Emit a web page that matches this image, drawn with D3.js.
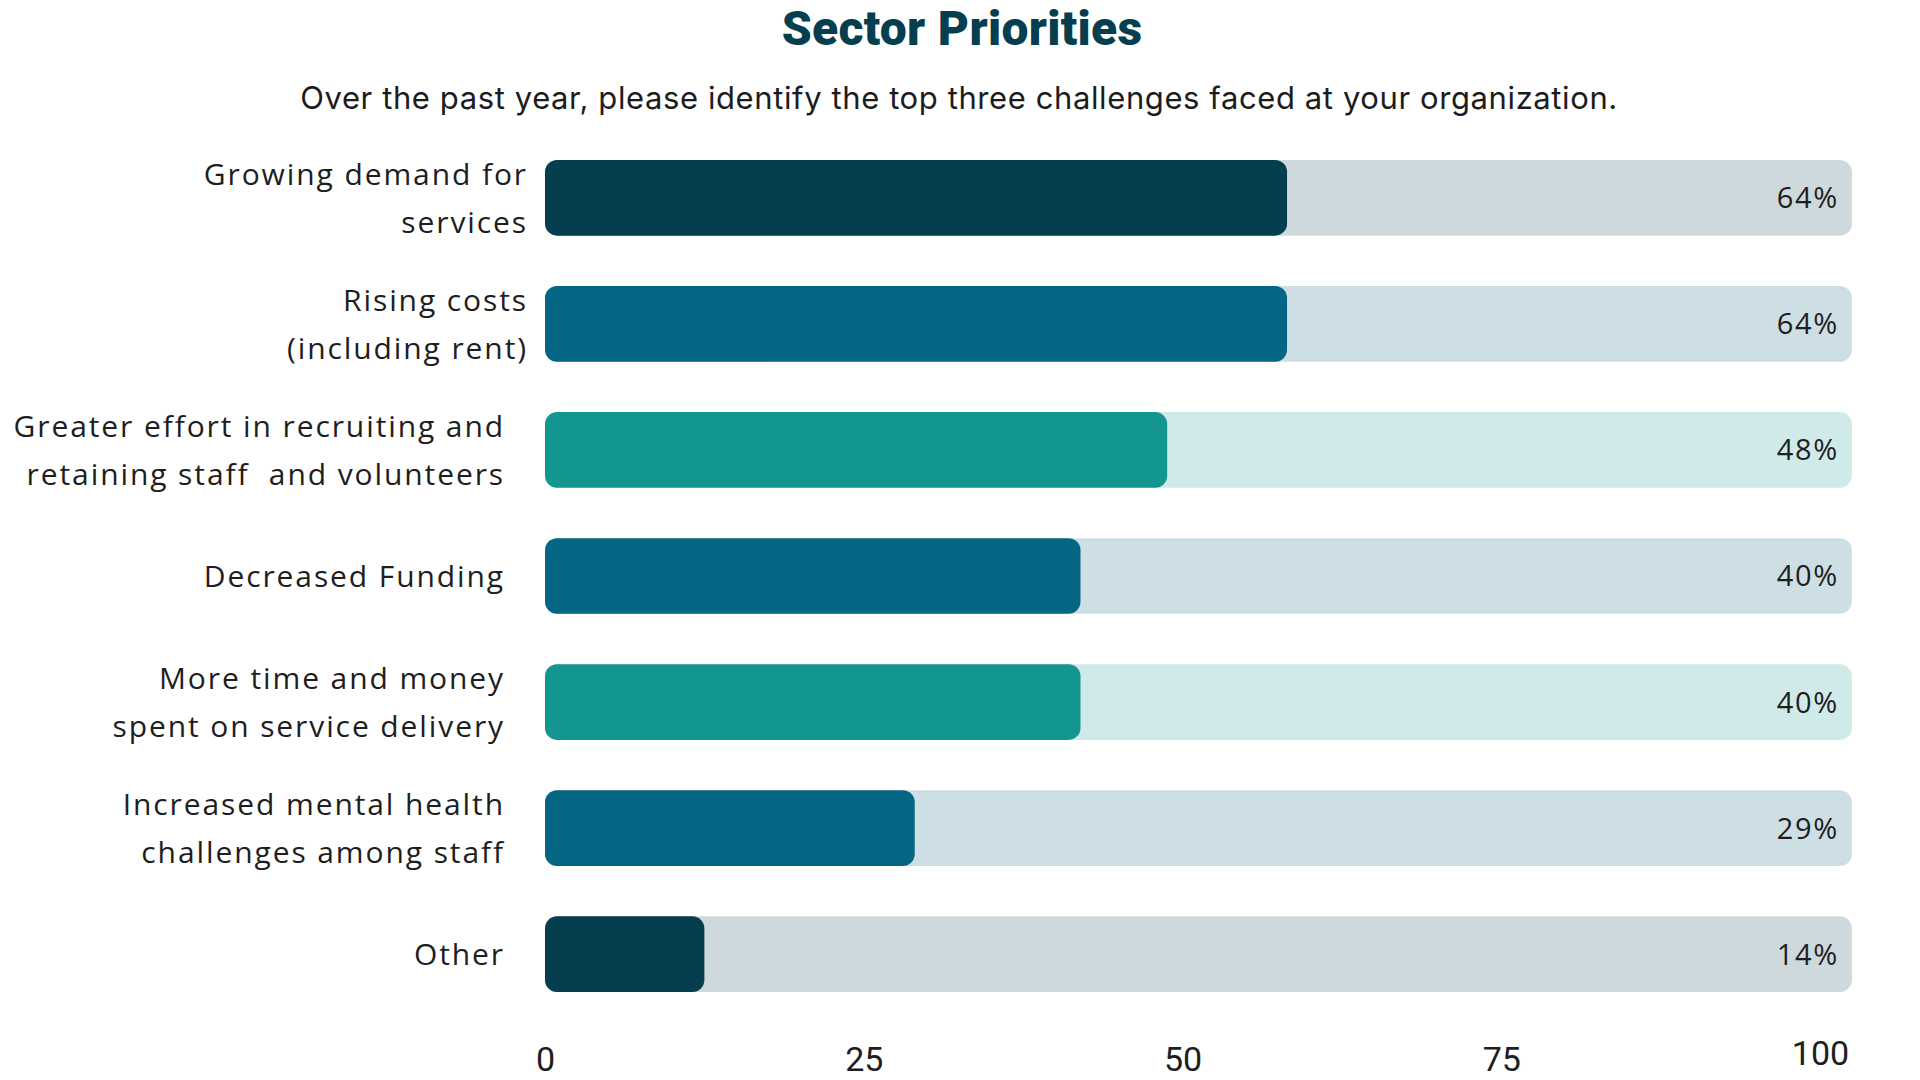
<!DOCTYPE html>
<html>
<head>
<meta charset="utf-8">
<script src="https://cdn.jsdelivr.net/npm/d3@7"></script>
<style>
  html, body { margin: 0; padding: 0; background: #fff; }
  svg { display: block; }
</style>
</head>
<body>
<div id="chart"></div>
<script>
// datos
const categories = [
  ["Growing demand for", "services"],
  ["Rising costs", "(including rent)"],
  ["Greater effort in recruiting and", "retaining staff  and volunteers"],
  ["Decreased Funding"],
  ["More time and money", "spent on service delivery"],
  ["Increased mental health", "challenges among staff"],
  ["Other"]
]
const values = [58.2, 58.2, 48.8, 42, 42, 29, 12.5]
const valueLabels = ["64%", "64%", "48%", "40%", "40%", "29%", "14%"]
const tickValues = [0, 25, 50, 75, 100]
const barColors = ["#043e4f", "#046683", "#149690", "#046683", "#149690", "#046683", "#043e4f"]
const trackColors = ["#cdd9dc", "#cddfe5", "#d0eaea", "#cddfe5", "#d0eaea", "#cddfe5", "#cdd9dc"]

const width = 1920, height = 1080
const labelFont = "'Open Sans', 'Noto Sans', sans-serif"

const svg = d3.select("#chart")
  .append("svg")
  .attr("width", width)
  .attr("height", height)

// escalas
const x = d3.scaleLinear()
  .domain([0, 100])
  .range([545, 1820])

const y = d3.scaleBand()
  .domain(d3.range(categories.length))
  .range([160, 992])
  .paddingInner(0.4)
  .paddingOuter(0)

// titulo
svg.append("text")
  .attr("x", 962)
  .attr("y", 45)
  .attr("text-anchor", "middle")
  .attr("fill", "#053f4f")
  .style("font-family", "Roboto, sans-serif")
  .style("font-weight", 900)
  .style("font-size", "48px")
  .style("letter-spacing", "0.3px")
  .text("Sector Priorities")

svg.append("text")
  .attr("x", 959)
  .attr("y", 109)
  .attr("text-anchor", "middle")
  .attr("fill", "#1c1c1c")
  .style("font-family", "Inter, sans-serif")
  .style("font-size", "31px")
  .style("letter-spacing", "0.6px")
  .text("Over the past year, please identify the top three challenges faced at your organization.")

// pistas de fondo
const rows = svg.append("g")
  .selectAll("g")
  .data(values)
  .join("g")

rows.append("rect")
  .attr("x", x(0))
  .attr("y", (d, i) => y(i))
  .attr("width", x(102.5) - x(0))
  .attr("height", y.bandwidth())
  .attr("rx", 12)
  .attr("fill", (d, i) => trackColors[i])

rows.append("rect")
  .attr("x", x(0))
  .attr("y", (d, i) => y(i))
  .attr("width", d => x(d) - x(0))
  .attr("height", y.bandwidth())
  .attr("rx", 12)
  .attr("fill", (d, i) => barColors[i])

// etiquetas de valor
rows.append("text")
  .attr("x", x(102.5) - 13)
  .attr("y", (d, i) => y(i) + y.bandwidth() / 2)
  .attr("dy", "0.36em")
  .attr("text-anchor", "end")
  .attr("fill", "#1e1e1e")
  .style("font-family", labelFont)
  .style("font-size", "29px")
  .style("letter-spacing", "1.7px")
  .text((d, i) => valueLabels[i])

// categorias (las dos primeras van mas a la derecha)
const catLabels = svg.append("g")
  .selectAll("text")
  .data(categories)
  .join("text")
  .attr("text-anchor", "end")
  .attr("fill", "#1e1e1e")
  .style("font-family", labelFont)
  .style("font-size", "30px")
  .style("letter-spacing", "1.9px")
  .style("white-space", "pre")
  .attr("transform", (d, i) => `translate(${i < 2 ? 528 : 505}, ${y(i) + y.bandwidth() / 2})`)

catLabels.selectAll("tspan")
  .data(d => d.map((line, j) => ({ line, j, n: d.length })))
  .join("tspan")
  .attr("x", 0)
  .attr("y", d => (d.j - (d.n - 1) / 2) * 48)
  .attr("dy", "0.36em")
  .text(d => d.line)

// eje
const xAxis = d3.axisBottom(x)
  .tickValues(tickValues)
  .tickSize(0)

const axisG = svg.append("g")
  .attr("transform", "translate(0, 1071)")
  .call(xAxis)

axisG.select(".domain").remove()
axisG.selectAll("text")
  .attr("y", 0)
  .attr("dy", (d, i) => i === tickValues.length - 1 ? -6 : 0)
  .attr("fill", "#1e1e1e")
  .style("font-family", "Roboto, sans-serif")
  .style("font-size", "34px")
</script>
</body>
</html>
